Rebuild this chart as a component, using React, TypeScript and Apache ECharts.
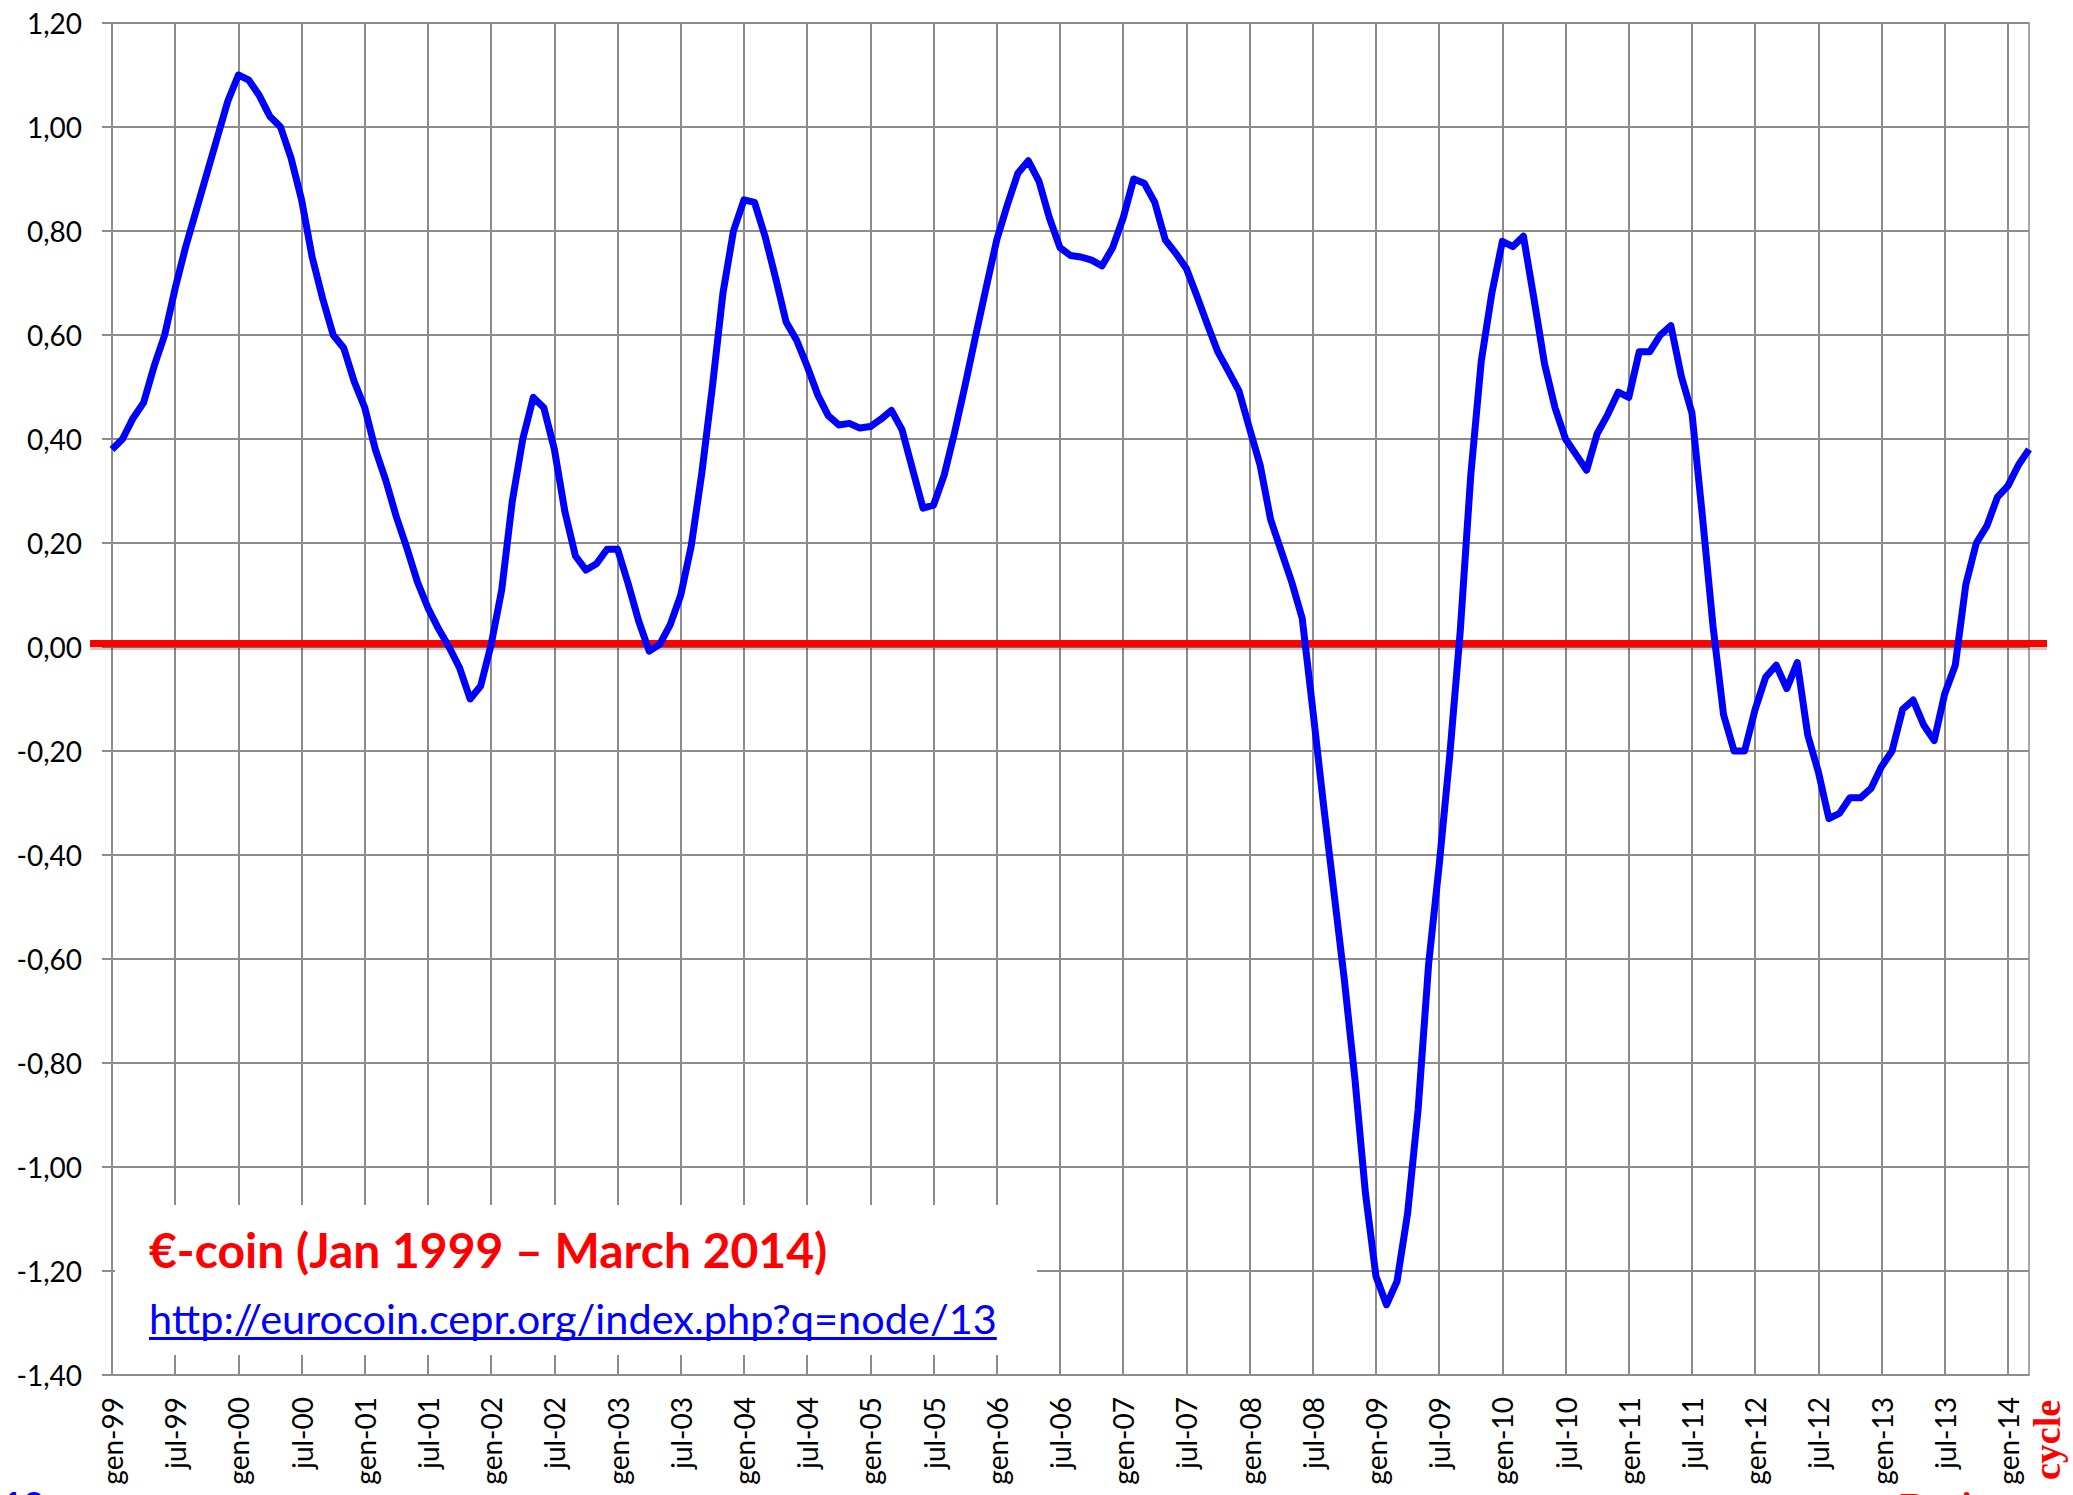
import React, { useEffect, useRef } from 'react';
import * as echarts from 'echarts';

// Month abbreviations (Italian, as in the source: "gen" ... with "jul")
const MONTHS = ['gen', 'feb', 'mar', 'apr', 'mag', 'giu', 'jul', 'ago', 'set', 'ott', 'nov', 'dic'];
const YEARS = ['99', '00', '01', '02', '03', '04', '05', '06', '07', '08', '09', '10', '11', '12', '13', '14'];

// €-coin monthly values, Jan 1999 – Mar 2014
const EUROCOIN = [
  0.38, 0.40, 0.44, 0.47, 0.54, 0.60, 0.69, 0.77, 0.84, 0.91, 0.98, 1.05,
  1.10, 1.09, 1.06, 1.02, 1.00, 0.94, 0.86, 0.75, 0.67, 0.60, 0.575, 0.51,
  0.46, 0.38, 0.32, 0.25, 0.19, 0.125, 0.075, 0.035, 0.00, -0.04, -0.10, -0.075,
  0.005, 0.11, 0.28, 0.40, 0.48, 0.46, 0.38, 0.26, 0.175, 0.148, 0.16, 0.188,
  0.188, 0.122, 0.05, -0.008, 0.005, 0.043, 0.10, 0.195, 0.335, 0.50, 0.68, 0.80,
  0.86, 0.855, 0.79, 0.71, 0.625, 0.59, 0.54, 0.485, 0.445, 0.427, 0.43, 0.421,
  0.424, 0.438, 0.455, 0.418, 0.342, 0.267, 0.273, 0.33, 0.413, 0.504, 0.599, 0.692,
  0.783, 0.85, 0.911, 0.935, 0.896, 0.825, 0.768, 0.753, 0.75, 0.744, 0.733, 0.768,
  0.825, 0.90, 0.892, 0.855, 0.783, 0.757, 0.728, 0.675, 0.62, 0.567, 0.53, 0.492,
  0.42, 0.35, 0.245, 0.185, 0.125, 0.055, -0.12, -0.30, -0.47, -0.64, -0.83, -1.05,
  -1.21, -1.265, -1.22, -1.09, -0.89, -0.61, -0.42, -0.21, 0.03, 0.33, 0.55, 0.68,
  0.78, 0.77, 0.79, 0.67, 0.545, 0.46, 0.40, 0.37, 0.34, 0.41, 0.447, 0.49,
  0.48, 0.568, 0.568, 0.60, 0.618, 0.52, 0.45, 0.25, 0.04, -0.13, -0.20, -0.20,
  -0.12, -0.058, -0.035, -0.08, -0.03, -0.17, -0.24, -0.33, -0.32, -0.29, -0.29, -0.272,
  -0.23, -0.20, -0.12, -0.102, -0.15, -0.18, -0.09, -0.035, 0.12, 0.20, 0.233, 0.288,
  0.31, 0.35, 0.38,
];

const Y_MIN = -1.4;
const Y_MAX = 1.2;
const Y_STEP = 0.2;

const TITLE = '€-coin (Jan 1999 – March 2014)';
const URL_TEXT = 'http://eurocoin.cepr.org/index.php?q=node/13';

const CATEGORIES: string[] = [];
for (let y = 0; y < YEARS.length && CATEGORIES.length < EUROCOIN.length; y++) {
  for (let m = 0; m < 12 && CATEGORIES.length < EUROCOIN.length; m++) {
    CATEGORIES.push(`${MONTHS[m]}-${YEARS[y]}`);
  }
}

const GRID_COLOR = '#8c8c8c';

function measure(text: string, font: string): number {
  const c = document.createElement('canvas').getContext('2d');
  if (!c) return text.length * 19;
  c.font = font;
  return c.measureText(text).width;
}

export default function App() {
  const ref = useRef<HTMLDivElement>(null);

  useEffect(() => {
    if (!ref.current) return;
    const chart = echarts.init(ref.current, null, { renderer: 'svg' });

    chart.setOption({
      animation: false,
      backgroundColor: '#ffffff',
      grid: {
        left: 112,
        top: 23,
        width: 1917,
        height: 1352,
        show: true,
        borderColor: '#a6a6a6',
        borderWidth: 2,
        backgroundColor: 'transparent',
      },
      xAxis: {
        type: 'category',
        data: CATEGORIES,
        boundaryGap: false,
        axisLine: { show: true, lineStyle: { color: GRID_COLOR, width: 2 } },
        axisTick: { show: false },
        axisLabel: {
          interval: 5,
          rotate: 90,
          margin: 22,
          fontSize: 28,
          fontFamily: 'Lato',
          color: '#000000',
        },
        splitLine: { show: true, interval: 5, lineStyle: { color: GRID_COLOR, width: 2 } },
      },
      yAxis: {
        type: 'value',
        min: Y_MIN,
        max: Y_MAX,
        interval: Y_STEP,
        axisLine: { show: true, lineStyle: { color: GRID_COLOR, width: 2 } },
        axisTick: { show: true, length: 10, lineStyle: { color: GRID_COLOR, width: 2 } },
        axisLabel: {
          margin: 30,
          fontSize: 28,
          fontFamily: 'Lato',
          color: '#000000',
          formatter: (v: number) => v.toFixed(2).replace('.', ','),
        },
        splitLine: { show: true, lineStyle: { color: GRID_COLOR, width: 2 } },
      },
      series: [
        {
          type: 'line',
          data: EUROCOIN,
          symbol: 'none',
          z: 5,
          lineStyle: { color: '#0000ff', width: 7, join: 'round' },
        },
      ],
    });

    const y0 = chart.convertToPixel({ yAxisIndex: 0 }, 0) as number;
    const xL = chart.convertToPixel({ xAxisIndex: 0 }, 0) as number;
    const xR = chart.convertToPixel({ xAxisIndex: 0 }, EUROCOIN.length - 1) as number;
    const yLow = chart.convertToPixel({ yAxisIndex: 0 }, -1.2) as number;

    const urlSize = 41.5;
    const urlW = measure(URL_TEXT, `${urlSize}px Lato`);

    chart.setOption({
      graphic: [
        {
          id: 'box',
          type: 'rect',
          z: 3,
          shape: { x: xL + 3, y: yLow - 66, width: 922, height: 150 },
          style: { fill: '#ffffff' },
        },
        {
          id: 'zeroShadow',
          type: 'rect',
          z: 4,
          shape: { x: xL - 22, y: y0 - 3, width: xR - xL + 40, height: 6 },
          style: { fill: 'rgba(0,0,0,0.18)', shadowBlur: 6, shadowColor: 'rgba(0,0,0,0.35)' },
        },
        {
          id: 'zero',
          type: 'rect',
          z: 4,
          shape: { x: xL - 22, y: y0 - 7, width: xR - xL + 40, height: 7 },
          style: { fill: '#ff0000' },
        },
        {
          id: 'title',
          type: 'text',
          z: 6,
          x: 149,
          y: 1249,
          style: {
            text: TITLE,
            fill: '#ff0000',
            fontSize: 48,
            fontWeight: 'bold',
            fontFamily: 'Lato',
            align: 'left',
            verticalAlign: 'middle',
          },
        },
        {
          id: 'url',
          type: 'text',
          z: 6,
          x: 149,
          y: 1318,
          style: {
            text: URL_TEXT,
            fill: '#0000ff',
            fontSize: urlSize,
            fontFamily: 'Lato',
            align: 'left',
            verticalAlign: 'middle',
          },
        },
        {
          id: 'underline',
          type: 'rect',
          z: 6,
          shape: { x: 149, y: 1337, width: urlW, height: 3 },
          style: { fill: '#0000ff' },
        },
        {
          id: 'cycle',
          type: 'text',
          z: 6,
          x: 2047,
          y: 1440,
          rotation: Math.PI / 2,
          style: {
            text: 'cycle',
            fill: '#ff0000',
            fontSize: 38,
            fontWeight: 'bold',
            fontFamily: 'Liberation Serif',
            align: 'center',
            verticalAlign: 'middle',
          },
        },
        {
          id: 'business',
          type: 'text',
          z: 6,
          x: 1900,
          y: 1487,
          style: {
            text: 'Business',
            fill: '#ff0000',
            fontSize: 38,
            fontWeight: 'bold',
            fontFamily: 'Liberation Serif',
            align: 'left',
            verticalAlign: 'top',
          },
        },
        {
          id: 'page',
          type: 'text',
          z: 6,
          x: 2,
          y: 1486,
          style: {
            text: '13',
            fill: '#0000ff',
            fontSize: 36,
            fontWeight: 'bold',
            fontFamily: 'Lato',
            align: 'left',
            verticalAlign: 'top',
          },
        },
      ],
    });

    return () => chart.dispose();
  }, []);

  return (
    <div
      ref={ref}
      style={{ position: 'fixed', left: 0, top: 0, width: 2073, height: 1495, background: '#fff' }}
    />
  );
}
